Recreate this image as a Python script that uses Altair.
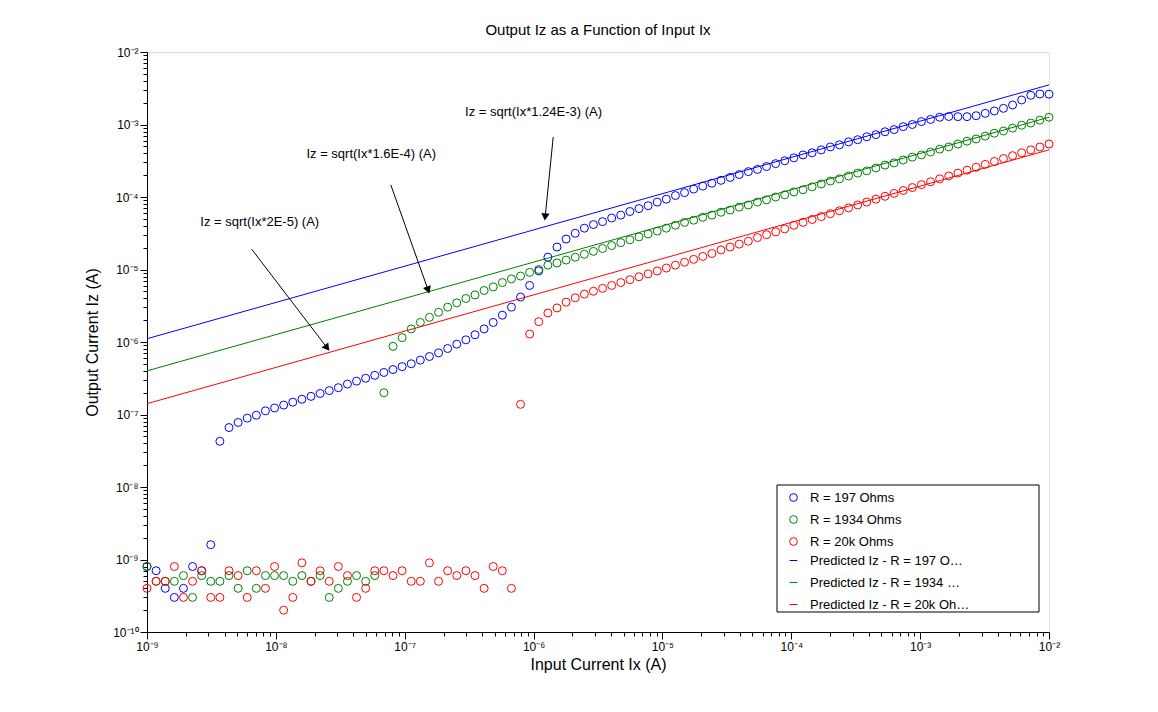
import altair as alt
import numpy as np
import pandas as pd

# Input current grid (A), 100 log-spaced samples
IX = np.logspace(-9, -2, 100)

# R = 197 Ohms: noise floor (x1e-10 A) then log10(Iz)
BLUE_NOISE = [8, 7, 4, 3, 4, 8, 7, 16]
BLUE_LOG = [
    -7.37, -7.18, -7.11, -7.05, -7.01, -6.95, -6.91, -6.87, -6.83, -6.79,
    -6.75, -6.71, -6.67, -6.63, -6.58, -6.54, -6.50, -6.46, -6.42, -6.38,
    -6.34, -6.30, -6.25, -6.20, -6.15, -6.09, -6.03, -5.97, -5.90, -5.82,
    -5.73, -5.63, -5.52, -5.38, -5.22, -5.02, -4.83, -4.69, -4.58, -4.50,
    -4.43,
    -4.38, -4.34, -4.29, -4.25, -4.20, -4.16, -4.12, -4.07, -4.03, -3.98,
    -3.94, -3.89, -3.85,
    -3.81, -3.77, -3.73, -3.69, -3.65, -3.62, -3.58, -3.54, -3.50, -3.46,
    -3.42, -3.39, -3.35,
    -3.31, -3.28, -3.24, -3.21, -3.17, -3.14, -3.10, -3.07, -3.03, -3.00,
    -2.96, -2.93, -2.90, -2.89,
    -2.892, -2.892, -2.879, -2.846, -2.814, -2.777, -2.731, -2.662, -2.597,
    -2.579, -2.582,
]

# R = 1934 Ohms
GREEN_NOISE = [8, 5, 5, 5, 6, 3, 6, 5, 5, 6, 4, 7, 4, 6, 6, 6, 5, 6, 5, 6,
               3, 4, 5, 6, 5, 6]
GREEN_LOG = [
    -6.70,
    -6.06, -5.94, -5.82, -5.73, -5.66, -5.59, -5.52, -5.46, -5.40, -5.35,
    -5.29, -5.24, -5.18, -5.13, -5.09, -5.04, -5.00, -4.94, -4.91, -4.87,
    -4.83, -4.79,
    -4.75, -4.71, -4.67, -4.63, -4.59, -4.55, -4.51, -4.47, -4.43, -4.39,
    -4.35, -4.32, -4.28,
    -4.25, -4.21, -4.18, -4.14, -4.11, -4.07, -4.04, -4.00, -3.97, -3.93,
    -3.90, -3.86, -3.82,
    -3.78, -3.75, -3.71, -3.67, -3.64, -3.60, -3.56, -3.53, -3.49, -3.45,
    -3.42, -3.38, -3.34, -3.31, -3.27, -3.23, -3.20, -3.16, -3.12, -3.09,
    -3.05, -3.01, -2.98, -2.94, -2.90,
]

# R = 20k Ohms
RED_NOISE = [4, 5, 5, 8, 3, 5, 7, 3, 3, 7, 6, 3, 7, 4, 8, 2, 3, 9, 5, 7,
             5, 8, 6, 3, 4, 7, 7, 6, 7, 5, 5, 9, 5, 7, 6, 7, 6, 4, 8, 7, 4]
RED_LOG = [
    -6.86,
    -5.89, -5.72, -5.60, -5.53, -5.45, -5.39, -5.34,
    -5.30, -5.26, -5.22, -5.18, -5.14, -5.10, -5.06, -5.02, -4.98, -4.94,
    -4.90, -4.86, -4.82,
    -4.78, -4.73, -4.69, -4.65, -4.61, -4.56, -4.52, -4.48, -4.44, -4.39,
    -4.35, -4.31,
    -4.27, -4.23, -4.19, -4.15, -4.11, -4.07, -4.03, -3.99, -3.95, -3.91,
    -3.87, -3.83, -3.79, -3.75, -3.71, -3.67, -3.63, -3.59, -3.55, -3.51,
    -3.47, -3.43, -3.39, -3.35, -3.31, -3.27,
]

MEASURED = ["R = 197 Ohms", "R = 1934 Ohms", "R = 20k Ohms"]
PREDICTED = ["Predicted Iz - R = 197 Ohms", "Predicted Iz - R = 1934 Ohms",
             "Predicted Iz - R = 20k Ohms"]
COLORS = ["#0000ff", "#008000", "#ff0000"]

# Predicted lines Iz = sqrt(Ix*k), endpoints at Ix = 1e-9 and 1e-2
PRED_X = [1e-9, 1e-2]
PRED_Y = [[1.11e-6, 3.52e-3], [4.0e-7, 1.26e-3], [1.41e-7, 4.47e-4]]

NOTE_TEXT = ["Iz = sqrt(Ix*1.24E-3) (A)", "Iz = sqrt(Ix*1.6E-4) (A)",
             "Iz = sqrt(Ix*2E-5) (A)"]
NOTE_X = [1.0e-6, 5.5e-8, 7.5e-9]
NOTE_Y = [1.5e-3, 3.9e-4, 4.5e-5]
ARROW_X0 = [1.42e-6, 7.8e-8, 6.5e-9]
ARROW_Y0 = [6.7e-4, 1.47e-4, 1.9e-5]
ARROW_X1 = [1.23e-6, 1.52e-7, 2.5e-8]
ARROW_Y1 = [5.3e-5, 5.2e-6, 8.3e-7]
ARROW_ANGLE = [6, 341, 322]

FONT = "Liberation Sans"


def series(noise, logs):
    return [n * 1e-10 for n in noise] + [10 ** v for v in logs]


rows = []
for name, vals in zip(MEASURED, [series(BLUE_NOISE, BLUE_LOG),
                                 series(GREEN_NOISE, GREEN_LOG),
                                 series(RED_NOISE, RED_LOG)]):
    for x, y in zip(IX, vals):
        rows.append({"ix": x, "iz": y, "series": name})
points_df = pd.DataFrame(rows)

lines_df = pd.DataFrame([
    {"ix": x, "iz": y, "series": name}
    for name, ys in zip(PREDICTED, PRED_Y) for x, y in zip(PRED_X, ys)
])

notes_df = pd.DataFrame({
    "text": NOTE_TEXT, "x": NOTE_X, "y": NOTE_Y,
    "x0": ARROW_X0, "y0": ARROW_Y0, "x1": ARROW_X1, "y1": ARROW_Y1,
    "ang": ARROW_ANGLE,
})

decade = "abs(log(datum.value)/LN10 - round(log(datum.value)/LN10)) < 0.001"
sup = "['⁰','¹','²','³','⁴','⁵','⁶','⁷','⁸','⁹','¹⁰'][abs(round(log(datum.value)/LN10))]"
label_expr = f"{decade} ? '10⁻' + {sup} : ''"
tick_size = {"condition": {"test": decade, "value": 7}, "value": 4}

x_ticks = [m * 10.0 ** k for k in range(-9, -2) for m in range(1, 10)] + [1e-2]
y_ticks = [m * 10.0 ** k for k in range(-10, -2) for m in range(1, 10)] + [1e-2]

x_scale = alt.Scale(type="log", domain=[1e-9, 1e-2], nice=False)
y_scale = alt.Scale(type="log", domain=[1e-10, 1e-2], nice=False)

axis_common = dict(labelExpr=label_expr, tickSize=tick_size, grid=False,
                   domainColor="black", tickColor="black", labelColor="black",
                   labelFont=FONT, labelFontSize=12, titleFont=FONT,
                   titleFontSize=16, titleFontWeight="normal",
                   titleColor="black")

x_enc = alt.X("ix:Q", scale=x_scale, title="Input Current Ix (A)",
              axis=alt.Axis(values=x_ticks, labelFlush=False, **axis_common))
y_enc = alt.Y("iz:Q", scale=y_scale, title="Output Current Iz (A)",
              axis=alt.Axis(values=y_ticks, titlePadding=12, **axis_common))

legend_common = dict(title=None, orient="none", legendX=640, labelFont=FONT,
                     labelFontSize=13, labelColor="black", rowPadding=8,
                     clipHeight=13, symbolStrokeWidth=1, symbolSize=60,
                     padding=0, labelOffset=10)

points = alt.Chart(points_df).mark_point(
    shape="circle", filled=False, size=64, strokeWidth=1, opacity=1
).encode(
    x=x_enc, y=y_enc,
    color=alt.Color("series:N", scale=alt.Scale(domain=MEASURED, range=COLORS),
                    legend=alt.Legend(legendY=439, symbolType="circle",
                                      symbolFillColor="transparent",
                                      **legend_common)),
)

lines = alt.Chart(lines_df).mark_line(strokeWidth=1).encode(
    x="ix:Q", y="iz:Q",
    color=alt.Color("series:N", scale=alt.Scale(domain=PREDICTED, range=COLORS),
                    legend=alt.Legend(legendY=502, symbolType="stroke",
                                      **legend_common)),
)

legend_box = alt.Chart(pd.DataFrame({"a": [0]})).mark_rect(
    fill="white", stroke="black", strokeWidth=1
).encode(x=alt.value(630), x2=alt.value(892), y=alt.value(433),
         y2=alt.value(560))

note_text = alt.Chart(notes_df).mark_text(
    font=FONT, fontSize=13, color="black"
).encode(x="x:Q", y="y:Q", text="text:N")

arrows = alt.Chart(notes_df).mark_rule(color="black", strokeWidth=1).encode(
    x="x0:Q", y="y0:Q", x2="x1:Q", y2="y1:Q")

heads = alt.Chart(notes_df).mark_point(
    shape="triangle-down", filled=True, color="black", size=70, opacity=1
).encode(x="x1:Q", y="y1:Q", angle=alt.Angle("ang:Q", scale=None))

chart = (
    alt.layer(lines, points, note_text, arrows, heads, legend_box)
    .resolve_scale(color="independent")
    .properties(
        width=902, height=580,
        autosize=alt.AutoSizeParams(type="none"),
        padding={"left": 139, "top": 44, "right": 101, "bottom": 72},
        title=alt.Title("Output Iz as a Function of Input Ix", font=FONT,
                        fontSize=15, fontWeight="normal", color="black",
                        offset=8),
    )
    .configure_view(stroke="black", strokeWidth=1)
    .configure(background="white")
)

chart.save("out.html", embed_options={"renderer": "svg", "actions": False})
